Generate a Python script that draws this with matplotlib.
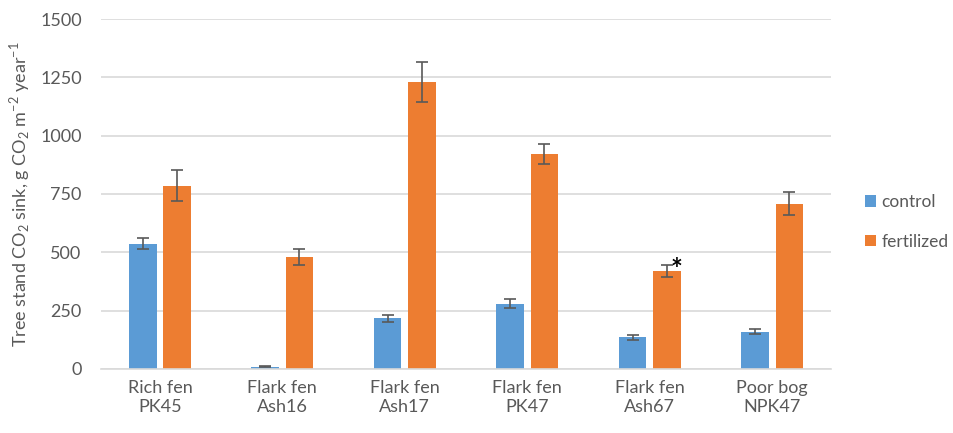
import matplotlib.pyplot as plt
import numpy as np

plt.rcParams['font.family'] = ['Lato', 'DejaVu Sans']
plt.rcParams['mathtext.fontset'] = 'custom'
plt.rcParams['mathtext.rm'] = 'Lato'

# data
sites = ['Rich fen\nPK45', 'Flark fen\nAsh16', 'Flark fen\nAsh17',
         'Flark fen\nPK47', 'Flark fen\nAsh67', 'Poor bog\nNPK47']
control = [537, 10, 218, 280, 135, 160]
control_err = [24, 3, 15, 20, 10, 10]
fertilized = [786, 479, 1230, 922, 420, 708]
fertilized_err = [66, 35, 85, 42, 27, 50]
yticks = [0, 250, 500, 750, 1000, 1250, 1500]

blue = '#5B9BD5'
orange = '#ED7D31'
txt = '#595959'

fig = plt.figure(figsize=(9.54, 4.33), dpi=100)
ax = fig.add_axes([0.106, 0.148, 0.765, 0.808])

x = np.arange(len(sites))
w = 0.225
off = 0.14
ax.bar(x - off, control, w, color=blue, label='control', zorder=2)
ax.bar(x + off, fertilized, w, color=orange, label='fertilized', zorder=2)
ax.errorbar(x - off, control, yerr=control_err, fmt='none', ecolor=txt,
            elinewidth=1.2, capsize=4, capthick=1.2, zorder=3)
ax.errorbar(x + off, fertilized, yerr=fertilized_err, fmt='none', ecolor=txt,
            elinewidth=1.2, capsize=4, capthick=1.2, zorder=3)

# significance mark
ax.text(x[4] + off + 0.03, fertilized[4] + fertilized_err[4] - 22, '*',
        fontsize=20, fontweight='bold', color='black', ha='left',
        va='center', zorder=4)

ax.set_xlim(-0.48, len(sites) - 0.52)
ax.set_ylim(0, 1500)
ax.set_yticks(yticks)
ax.set_xticks(x)
ax.set_xticklabels(sites, fontsize=13, color=txt, linespacing=1.25)
ax.tick_params(axis='y', labelsize=13, labelcolor=txt, length=0, pad=14)
ax.tick_params(axis='x', length=0, pad=8)
ax.grid(axis='y', color='#D9D9D9', lw=1.2, zorder=0)
for s in ['top', 'right', 'left']:
    ax.spines[s].set_visible(False)
ax.spines['bottom'].set_color('#D9D9D9')
ax.spines['bottom'].set_linewidth(1.2)

ax.set_ylabel(r'Tree stand CO$_2$ sink, g CO$_2$ m$^{\mathregular{-2}}$ year$^{\mathregular{-1}}$',
              fontsize=13, color=txt, labelpad=6)

ax.legend(loc='center left', bbox_to_anchor=(1.03, 0.42), frameon=False,
          fontsize=12.5, labelcolor=txt, handlelength=0.65, handleheight=0.65,
          handletextpad=0.3, labelspacing=1.35, borderpad=0.2)

fig.savefig('out.png', dpi=100)
